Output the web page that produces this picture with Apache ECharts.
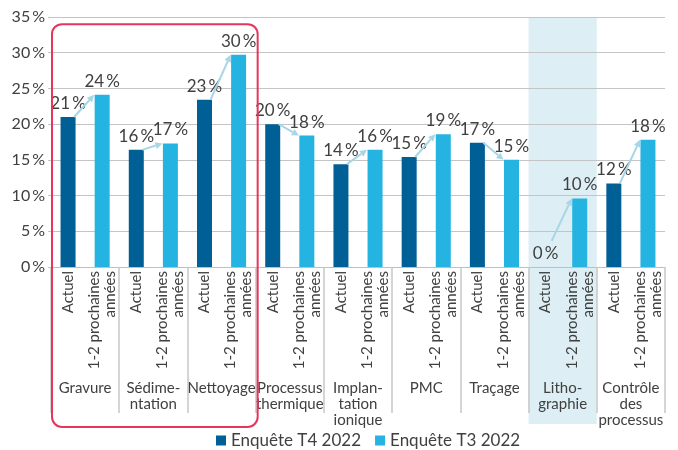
<!DOCTYPE html>
<html><head><meta charset="utf-8">
<script src="https://cdn.jsdelivr.net/npm/echarts@6/dist/echarts.min.js"></script>
<style>html,body{margin:0;padding:0;background:#fff}#c{width:678px;height:450px}</style>
</head><body><div id="c"></div>
<script>
const groups = ['Gravure','Sédime-\nntation','Nettoyage','Processus\nthermique','Implan-\ntation\nionique','PMC','Traçage','Litho-\ngraphie','Contrôle\ndes\nprocessus'];
const subLabels = ['Actuel','1-2 prochaines\nannées'];
const actuel = [21.0,16.4,23.4,20.0,14.4,15.4,17.4,0,11.7];
const prochaines = [24.1,17.3,29.7,18.4,16.4,18.6,15.0,9.6,17.8];
const seriesNames = ['Enquête T4 2022','Enquête T3 2022'];
const yTicks = [0,5,10,15,20,25,30,35];

const FONT = 'Lato';
const TXT = '#404040';
const DARK = '#005f95';
const LIGHT = '#25b3e2';
const ARROW = '#a9d6e6';

const slots = [];
groups.forEach(() => { slots.push(subLabels[0], subLabels[1]); });
const darkData = [], lightData = [];
actuel.forEach((v,i) => { darkData.push(v, '-'); lightData.push('-', prochaines[i]); });
const pct = v => Math.round(v) + '\u2009%';

const chart = echarts.init(document.getElementById('c'), null, {renderer:'canvas'});
const lbl = {show:true, position:'top', distance:5, fontFamily:FONT, fontSize:17, color:TXT, formatter:p => pct(p.value)};

chart.setOption({
  animation:false,
  textStyle:{fontFamily:FONT},
  grid:{left:51, right:13, top:17, bottom:183, containLabel:false},
  legend:{data:seriesNames, left:216, top:432, padding:0, icon:'rect', itemWidth:10, itemHeight:10, itemGap:14,
    textStyle:{fontFamily:FONT, fontSize:17, color:TXT}},
  xAxis:[
    {type:'category', data:slots, gridIndex:0, position:'bottom',
      axisLine:{show:true, lineStyle:{color:'#bfbfbf', width:1}},
      axisTick:{show:false},
      axisLabel:{interval:0, rotate:90, margin:4, fontFamily:FONT, fontSize:15, lineHeight:16, color:TXT, align:'right'}},
    {type:'category', data:groups, gridIndex:0, position:'bottom',
      axisLine:{show:false},
      axisTick:{show:true, interval:0, length:146, lineStyle:{color:'#c8c8c8', width:1.5}},
      axisLabel:{interval:0, margin:113, fontFamily:FONT, fontSize:15, lineHeight:16, color:TXT, verticalAlign:'top'}}
  ],
  yAxis:{type:'value', min:0, max:35, interval:5,
    axisLine:{show:false},
    axisTick:{show:true, length:3, lineStyle:{color:'#c4c4c4'}},
    splitLine:{lineStyle:{color:'#c4c4c4', width:1}},
    axisLabel:{formatter:v => v + '\u2009%', fontFamily:FONT, fontSize:16, color:TXT, margin:6}},
  series:[
    {name:seriesNames[0], type:'bar', xAxisIndex:0, data:darkData, barWidth:15, barGap:'-100%', itemStyle:{color:DARK}, label:lbl, z:3},
    {name:seriesNames[1], type:'bar', xAxisIndex:0, data:lightData, barWidth:15, barGap:'-100%', itemStyle:{color:LIGHT}, label:lbl, z:3},
    {type:'custom', xAxisIndex:0, z:4, silent:true,
      data: actuel.map((v,i) => [2*i, v, 2*i+1, prochaines[i]]),
      renderItem:(params, api) => {
        const a = api.coord([api.value(0), api.value(1)]);
        const b = api.coord([api.value(2), api.value(3)]);
        const zeroY = api.coord([0,0])[1];
        const S = [a[0]+6, Math.min(a[1], zeroY-26)];
        const E = [b[0]-8, b[1]];
        const dx = E[0]-S[0], dy = E[1]-S[1];
        const len = Math.sqrt(dx*dx+dy*dy);
        const ux = dx/len, uy = dy/len;
        const hl = 7, hw = 3.5;
        const base = [E[0]-ux*hl, E[1]-uy*hl];
        return {type:'group', children:[
          {type:'line', shape:{x1:S[0], y1:S[1], x2:base[0], y2:base[1]}, style:{stroke:ARROW, lineWidth:2}},
          {type:'polygon', shape:{points:[E, [base[0]-uy*hw, base[1]+ux*hw], [base[0]+uy*hw, base[1]-ux*hw]]}, style:{fill:ARROW}}
        ]};
      }}
  ]
});

const cx = i => chart.convertToPixel({xAxisIndex:0}, i);
const slotW = cx(1) - cx(0);
const bound = g => cx(2*g) - slotW/2;
const yPx = v => chart.convertToPixel({yAxisIndex:0}, v);

chart.setOption({graphic:[
  {type:'rect', z:-10, shape:{x:bound(7), y:yPx(35), width:bound(8)-bound(7), height:424-yPx(35)},
    style:{fill:'rgba(175,218,232,0.42)'}},
  {type:'rect', z:10, shape:{x:bound(0)+1, y:yPx(34), width:bound(3)-bound(0)+1, height:427-yPx(34), r:10},
    style:{fill:'none', stroke:'#e6365e', lineWidth:2}}
]});
</script></body></html>
